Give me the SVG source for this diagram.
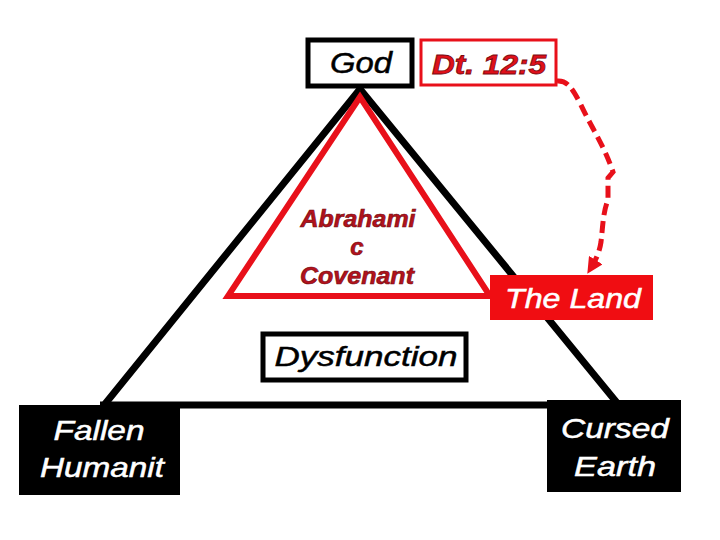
<svg xmlns="http://www.w3.org/2000/svg" width="720" height="540" viewBox="0 0 720 540">
<style>
.t{font-family:"Liberation Sans",Arial,sans-serif;font-style:italic;text-anchor:middle}
.w{fill:#fff;stroke:#fff;stroke-width:0.5}
.b{fill:#000;stroke:#000;stroke-width:0.5}
.ab{font-size:24px;font-weight:bold;fill:#b3121c;stroke:#6e0a10;stroke-width:0.6}
</style>
<defs>
<marker id="ah" viewBox="0 0 10 10" refX="8" refY="5" markerWidth="3.2" markerHeight="3.2" orient="auto" markerUnits="strokeWidth">
<path d="M0,0 L10,5 L0,10 z" fill="#e8101a"/>
</marker>
</defs>
<rect width="720" height="540" fill="#fff"/>
<g id="connectors">
<polyline points="105,404 360,89 618,404" fill="none" stroke="#000" stroke-width="7" stroke-linejoin="miter"/>
<line x1="100" y1="405" x2="620" y2="405" stroke="#000" stroke-width="7"/>
<path d="M557,81 C567,80 572,88 580,103 C590,125 604,145 613,172 L608,178 L608,200 C603,212 603,225 601,242 C599,255 594,263 589,271" fill="none" stroke="#e8101a" stroke-width="5" stroke-dasharray="12,6" marker-end="url(#ah)"/>
</g>
<g id="covenant">
<polygon points="360,97 228,296 490,296" fill="#fff" stroke="#e8101a" stroke-width="6" stroke-linejoin="miter"/>
<text class="t ab" x="358" y="227" textLength="115" lengthAdjust="spacingAndGlyphs">Abrahami</text>
<text class="t ab" x="357" y="255">c</text>
<text class="t ab" x="357" y="284" textLength="114" lengthAdjust="spacingAndGlyphs">Covenant</text>
</g>
<g id="god">
<rect x="308" y="40" width="104" height="46" fill="#fff" stroke="#000" stroke-width="5"/>
<text class="t b" x="361" y="73" font-size="29" textLength="62" lengthAdjust="spacingAndGlyphs">God</text>
</g>
<g id="dt">
<rect x="421" y="40" width="135" height="45" fill="#fff" stroke="#e8101a" stroke-width="3"/>
<text class="t" x="489" y="74" font-size="27" font-weight="bold" fill="#e0101a" stroke="#7a0a10" stroke-width="0.8" textLength="114" lengthAdjust="spacingAndGlyphs">Dt. 12:5</text>
</g>
<g id="land">
<rect x="490" y="275" width="163" height="45" fill="#f00d12"/>
<text class="t w" x="573" y="308" font-size="27" textLength="136" lengthAdjust="spacingAndGlyphs">The Land</text>
</g>
<g id="dysfunction">
<rect x="263" y="334" width="203" height="46" fill="#fff" stroke="#000" stroke-width="5"/>
<text class="t b" x="366" y="366" font-size="28" textLength="183" lengthAdjust="spacingAndGlyphs">Dysfunction</text>
</g>
<g id="fallen">
<rect x="19" y="405" width="161" height="90" fill="#000"/>
<text class="t w" x="99" y="440" font-size="28" textLength="91" lengthAdjust="spacingAndGlyphs">Fallen</text>
<text class="t w" x="102" y="477" font-size="28" textLength="124" lengthAdjust="spacingAndGlyphs">Humanit</text>
</g>
<g id="cursed">
<rect x="547" y="400" width="134" height="92" fill="#000"/>
<text class="t w" x="615" y="438" font-size="28" textLength="108" lengthAdjust="spacingAndGlyphs">Cursed</text>
<text class="t w" x="615" y="476" font-size="28" textLength="82" lengthAdjust="spacingAndGlyphs">Earth</text>
</g>
</svg>
